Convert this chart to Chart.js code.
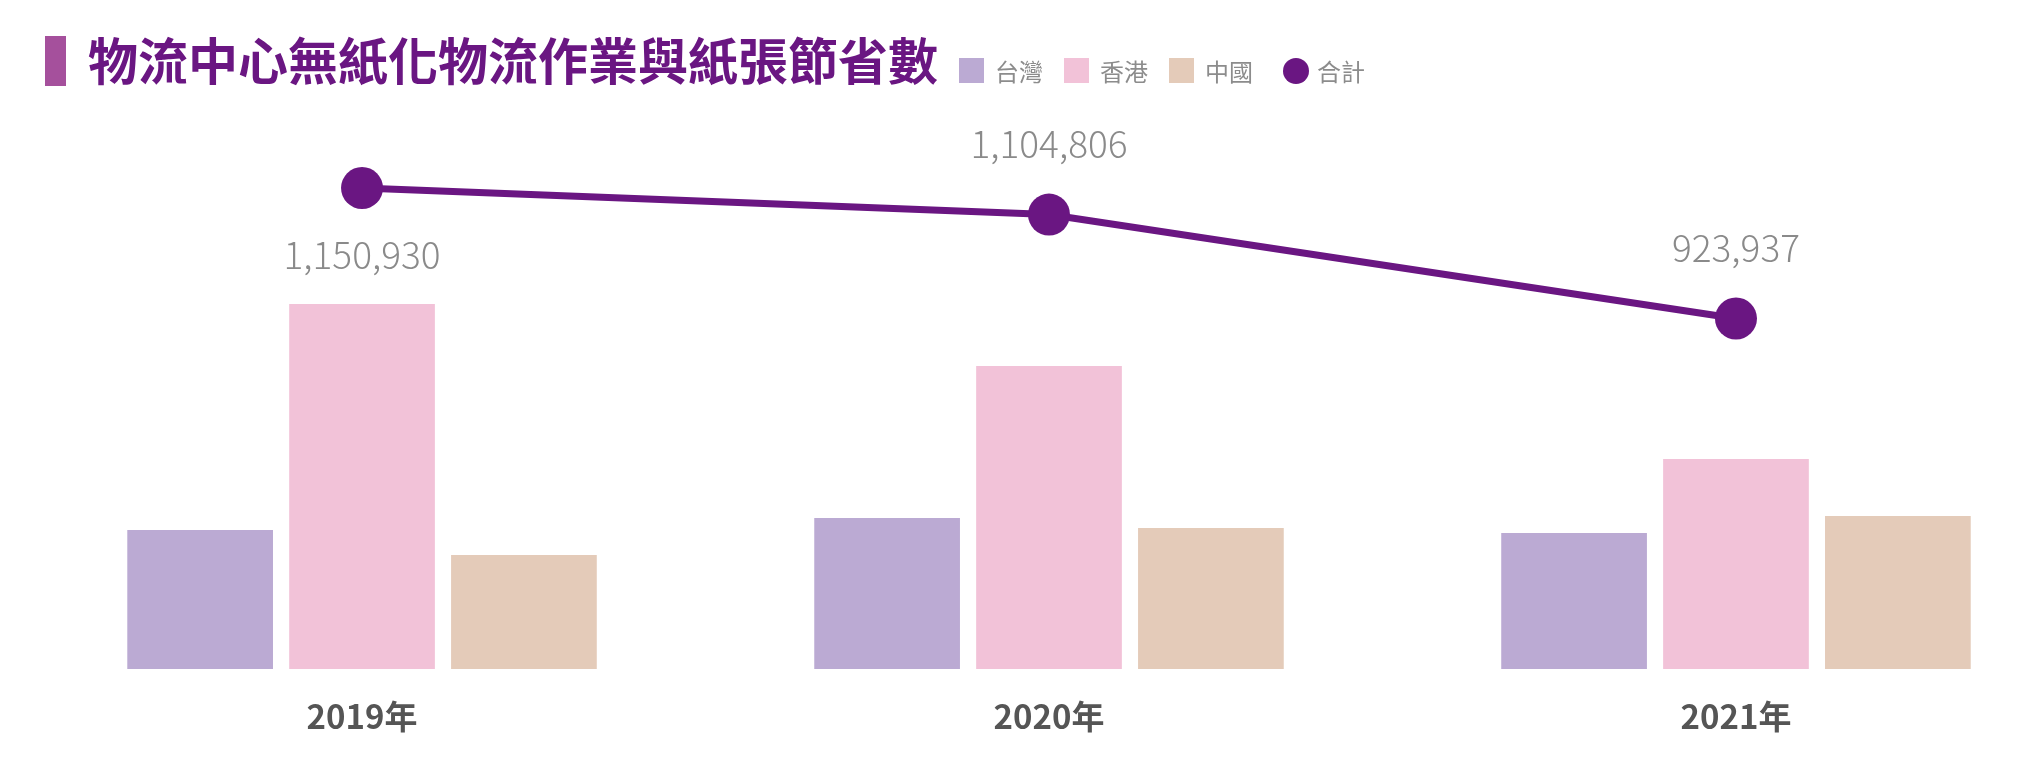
<!DOCTYPE html>
<html lang="zh-Hant">
<head>
<meta charset="utf-8">
<title>物流中心無紙化物流作業與紙張節省數</title>
<script src="https://cdn.jsdelivr.net/npm/chart.js@4.4.1/dist/chart.umd.min.js"></script>
<style>
    html, body { margin: 0; padding: 0; background: #fff; }
    body {
        width: 2030px; height: 768px; overflow: hidden; position: relative;
        font-family: "Noto Sans CJK TC", "Noto Sans", sans-serif;
    }
    .chart-box { position: absolute; left: 0; top: 0; width: 2030px; height: 768px; }
    .title-mark { position: absolute; left: 45px; top: 36px; width: 21px; height: 50px; background: #a5509c; }
    .title {
        position: absolute; left: 88px; top: 33px; margin: 0;
        font-size: 50px; line-height: 1; font-weight: 700; color: #6a1682; white-space: nowrap;
    }
    .legend {
        position: absolute; left: 959px; top: 58px; margin: 0; padding: 0;
        list-style: none; display: flex; align-items: center; height: 25px;
    }
    .legend li { display: flex; align-items: center; margin-right: 21px; }
    .legend .box { width: 25px; height: 25px; margin-right: 11px; }
    .legend .dot { width: 26px; height: 26px; border-radius: 50%; margin-left: 9px; margin-right: 8px; }
    .legend span.txt { font-size: 24px; line-height: 1; color: #8c8c8c; }
</style>
</head>
<body>
<div class="chart-box"><canvas id="paper-chart"></canvas></div>
<div class="title-mark"></div>
<h1 class="title">物流中心無紙化物流作業與紙張節省數</h1>
<ul class="legend" id="paper-legend"></ul>
<script>
// Chart data
const years = ['2019年', '2020年', '2021年'];
const seriesNames = ['台灣', '香港', '中國'];
const totalName = '合計';
const taiwan = [259600, 282000, 254000];
const hongKong = [681700, 565900, 392200];
const china = [212900, 263400, 285800];
const totals = [1150930, 1104806, 923937];

const barColors = ['#bbaad3', '#f2c2d8', '#e4cbb9'];
const lineColor = '#6a1682';
const fontFamily = '"Noto Sans CJK TC", "Noto Sans", sans-serif';

// Plugin to draw the value labels next to the total points
const totalLabels = {
    id: 'totalLabels',
    afterDatasetsDraw(chart) {
        const meta = chart.getDatasetMeta(3);
        const ctx = chart.ctx;
        ctx.save();
        ctx.font = '300 37px ' + fontFamily;
        ctx.fillStyle = '#8a8a8a';
        ctx.textAlign = 'center';
        ctx.textBaseline = 'middle';
        meta.data.forEach((pt, i) => {
            // first label sits under the point, the others above it
            const dy = i === 0 ? 67 : -71;
            ctx.fillText(totals[i].toLocaleString('en-US'), pt.x, pt.y + dy);
        });
        ctx.restore();
    }
};

function initializeChart() {
    const canvas = document.getElementById('paper-chart');
    const ctx = canvas.getContext('2d');

    const barSets = [taiwan, hongKong, china].map((values, i) => ({
        type: 'bar',
        label: seriesNames[i],
        data: values,
        backgroundColor: barColors[i],
        borderWidth: 0,
        categoryPercentage: 0.707,
        barPercentage: 0.9,
        yAxisID: 'y',
        order: 1
    }));

    const chart = new Chart(ctx, {
        type: 'bar',
        data: {
            labels: years.map((y, i) => i),
            datasets: barSets.concat([{
                type: 'line',
                label: totalName,
                data: totals,
                borderColor: lineColor,
                borderWidth: 7,
                backgroundColor: lineColor,
                pointRadius: 21,
                pointHoverRadius: 21,
                pointBackgroundColor: lineColor,
                pointBorderWidth: 0,
                tension: 0,
                clip: false,
                yAxisID: 'y2',
                order: 0
            }])
        },
        options: {
            responsive: true,
            maintainAspectRatio: false,
            animation: false,
            layout: { autoPadding: false, padding: { top: 110, left: 0, right: 0, bottom: 0 } },
            plugins: {
                legend: { display: false },
                title: { display: false },
                tooltip: { enabled: false }
            },
            scales: {
                x: {
                    type: 'linear',
                    offset: false,
                    min: -0.527,
                    max: 2.428,
                    afterBuildTicks: axis => {
                        axis.ticks = years.map((y, i) => ({ value: i }));
                    },
                    afterFit: axis => { axis.height = 99; },
                    grid: { display: false, drawTicks: false },
                    border: { display: false },
                    ticks: {
                        callback: v => years[v],
                        color: '#555555',
                        padding: 28,
                        maxRotation: 0,
                        font: { family: fontFamily, size: 33, weight: 'bold' }
                    }
                },
                y: {
                    display: false,
                    min: 0,
                    max: 1044000
                },
                y2: {
                    display: false,
                    position: 'right',
                    min: 314400,
                    max: 1286600
                }
            }
        },
        plugins: [totalLabels]
    });

    // Build the legend from the datasets
    const legend = document.getElementById('paper-legend');
    chart.data.datasets.forEach(ds => {
        const li = document.createElement('li');
        const mark = document.createElement('span');
        mark.className = ds.type === 'line' ? 'dot' : 'box';
        mark.style.background = ds.type === 'line' ? ds.borderColor : ds.backgroundColor;
        const txt = document.createElement('span');
        txt.className = 'txt';
        txt.textContent = ds.label;
        li.appendChild(mark);
        li.appendChild(txt);
        legend.appendChild(li);
    });
}

initializeChart();
</script>
</body>
</html>
